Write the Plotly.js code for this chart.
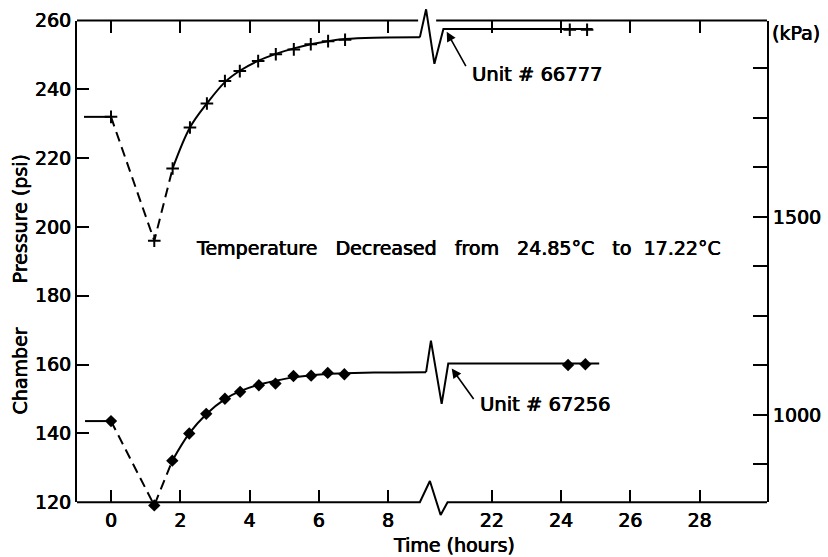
<!DOCTYPE html>
<html>
<head>
<meta charset="utf-8">
<script src="https://cdn.plot.ly/plotly-3.0.1.min.js"></script>
<style>html,body{margin:0;padding:0;background:#fff;}#chart{width:828px;height:557px;}</style>
</head>
<body>
<div id="chart"></div>
<script>
// ---------------- data ----------------
// time axis is broken between ~9 h and ~20 h; 11 hours are cut out
const HOURS_CUT = 11;
const tickHours = [0, 2, 4, 6, 8, 22, 24, 26, 28];
const psiTicks = [120, 140, 160, 180, 200, 220, 240, 260];
const kpaTicks = [875, 1000, 1125, 1250, 1375, 1500, 1625, 1750, 1875];
const kpaLabels = ['', '1000', '', '', '', '1500', '', '', ''];

// Unit #66777 (crosses)
const unitA_T = [0, 1.25, 1.78, 2.28, 2.77, 3.29, 3.72, 4.25, 4.76, 5.28, 5.77, 6.27, 6.76, 24.25, 24.75];
const unitA_P = [232.0, 196.0, 217.0, 228.9, 235.9, 242.4, 245.3, 248.2, 250.2, 251.6, 253.1, 254.0, 254.4, 257.3, 257.3];
// Unit #67256 (diamonds)
const unitB_T = [0, 1.25, 1.77, 2.26, 2.75, 3.29, 3.73, 4.27, 4.75, 5.27, 5.78, 6.26, 6.74, 24.2, 24.7];
const unitB_P = [143.6, 119.1, 132.1, 140.0, 145.7, 150.1, 152.1, 154.0, 154.5, 156.7, 156.8, 157.6, 157.2, 159.9, 160.1];

// hand-drawn smooth fit curves
const fitA_T = [1.78, 2.28, 2.77, 3.29, 3.72, 4.25, 4.76, 5.28, 5.77, 6.27, 6.76, 7.6, 8.92];
const fitA_P = [217.0, 228.9, 235.9, 242.1, 245.4, 248.3, 250.3, 251.9, 253.1, 254.0, 254.6, 255.0, 255.1];
const fitB_T = [1.77, 2.26, 2.75, 3.29, 3.73, 4.27, 4.75, 5.27, 5.78, 6.26, 6.74, 7.6, 9.10];
const fitB_P = [132.1, 140.0, 145.6, 150.0, 152.3, 154.2, 155.3, 156.3, 156.9, 157.3, 157.5, 157.7, 157.8];

// initial steady level before t=0
const leadA_T = [-0.78, 0];
const leadB_T = [-0.75, 0];

// break glyphs (axis units) and the line after the break
const breakA_X = [8.92, 9.10, 9.34, 9.60];
const breakA_P = [255.1, 263.25, 247.4, 257.5];
const endA_T = 24.91;
const breakB_X = [9.10, 9.24, 9.55, 9.74];
const breakB_P = [157.8, 167.0, 148.6, 160.3];
const endB_T = 25.1;
const breakAxis_X = [8.92, 9.21, 9.52, 9.72];
const breakAxis_P = [120, 126.2, 116.3, 120];
const topGap_X = [8.87, 9.39];

// ---------------- helpers ----------------
const tx = t => (t > 12 ? t - HOURS_CUT : t);
const X_RANGE = [-0.982, 18.946];
const Y_RANGE = [120, 260];
const KPA_RANGE = [779.5, 1996.2];
const H = 557, MT = 2, MB = 30;
const plotH = H - MT - MB;
const dTop = 1 - (20.5 - MT) / plotH;
const dBot = (H - MB - 502.3) / plotH;
const psiPerDom = (Y_RANGE[1] - Y_RANGE[0]) / (dTop - dBot);
const Y2_RANGE = [Y_RANGE[0] - dBot * psiPerDom, Y_RANGE[1] + (1 - dTop) * psiPerDom];
const pxToPaperY = px => (H - MB - px) / plotH;

const black = '#000';
const lineStyle = {color: black, width: 2};
const dashStyle = {color: black, width: 2, dash: '10px,6px'};

const traces = [];
// --- everything drawn on the full-height overlay subplot (x2,y2) so marks may leave the frame
function L(x, y, line, shape) {
  traces.push({x: x, y: y, xaxis: 'x2', yaxis: 'y2', mode: 'lines', line: Object.assign({shape: shape || 'linear'}, line), hoverinfo: 'skip'});
}
// frame bottom (with break) and top (with gap)
L([X_RANGE[0]].concat(breakAxis_X, [X_RANGE[1]]), [120].concat(breakAxis_P, [120]), lineStyle);
L([X_RANGE[0], topGap_X[0]], [260, 260], lineStyle);
L([topGap_X[1], X_RANGE[1]], [260, 260], lineStyle);
// unit A
L(leadA_T.map(tx), [unitA_P[0], unitA_P[0]], lineStyle);
L(unitA_T.slice(0, 3).map(tx), unitA_P.slice(0, 3), dashStyle);
L(fitA_T.map(tx), fitA_P, Object.assign({smoothing: 1}, lineStyle), 'spline');
L(breakA_X.concat([tx(endA_T)]), breakA_P.concat([breakA_P[3]]), lineStyle);
// unit B
L(leadB_T.map(tx), [unitB_P[0], unitB_P[0]], lineStyle);
L(unitB_T.slice(0, 3).map(tx), unitB_P.slice(0, 3), dashStyle);
L(fitB_T.map(tx), fitB_P, Object.assign({smoothing: 1}, lineStyle), 'spline');
L(breakB_X.concat([tx(endB_T)]), breakB_P.concat([breakB_P[3]]), lineStyle);

// markers
traces.push({x: unitA_T.map(tx), y: unitA_P, mode: 'markers', xaxis: 'x2', yaxis: 'y2',
  marker: {symbol: 'cross-thin', size: 9, color: black, line: {color: black, width: 2}}, name: 'Unit #66777'});
traces.push({x: unitB_T.map(tx), y: unitB_P, mode: 'markers', xaxis: 'x2', yaxis: 'y2',
  marker: {symbol: 'diamond', size: 9.5, color: black, line: {width: 0}}, name: 'Unit #67256'});
// anchors for the framed axes
traces.push({x: [], y: [], xaxis: 'x', yaxis: 'y', mode: 'markers', hoverinfo: 'skip'});
traces.push({x: [], y: [], xaxis: 'x', yaxis: 'y3', mode: 'markers', hoverinfo: 'skip'});
traces.push({x: [], y: [], xaxis: 'x4', yaxis: 'y', mode: 'markers', hoverinfo: 'skip'});

const font = 'DejaVu Sans, Verdana, sans-serif';
const heavy = '0.45px 0px 0px #000, -0.25px 0px 0px #000';
const F = size => ({family: font, size: size, color: black, shadow: heavy});
const tickCommon = {ticks: 'inside', tickwidth: 2, tickcolor: black, showgrid: false, zeroline: false, tickfont: F(19)};
const nb = s => s.replace(/ /g, '\u00a0');

const layout = {
  width: 828, height: 557,
  margin: {l: 77, r: 61, t: MT, b: MB, pad: 0},
  paper_bgcolor: '#fff', plot_bgcolor: 'rgba(0,0,0,0)',
  showlegend: false,
  font: {family: font, color: black},
  xaxis: Object.assign({}, tickCommon, {domain: [0, 1], range: X_RANGE, tickmode: 'array', tickvals: tickHours.map(tx), ticktext: tickHours.map(String), ticklen: 12, ticklabelstandoff: 5, showline: false, anchor: 'y'}),
  xaxis4: Object.assign({}, tickCommon, {overlaying: 'x', side: 'top', range: X_RANGE, tickmode: 'array', tickvals: tickHours.map(tx), ticklen: 12, showticklabels: false, showline: false, anchor: 'y'}),
  yaxis: Object.assign({}, tickCommon, {domain: [dBot, dTop], range: Y_RANGE, tickmode: 'array', tickvals: psiTicks, ticktext: psiTicks.map(String), ticklen: 12, showline: true, linewidth: 2, linecolor: black, anchor: 'x'}),
  yaxis3: Object.assign({}, tickCommon, {overlaying: 'y', side: 'right', anchor: 'x', range: KPA_RANGE, tickmode: 'array', tickvals: kpaTicks, ticktext: kpaLabels, ticklen: 14, showline: true, linewidth: 2, linecolor: black}),
  xaxis2: {domain: [0, 1], range: X_RANGE, visible: false, anchor: 'y2', fixedrange: true},
  yaxis2: {domain: [0, 1], range: Y2_RANGE, visible: false, anchor: 'x2', fixedrange: true},
  annotations: [
    {xref: 'x', yref: 'y', x: 10.04, y: 193.9, text: nb('Temperature   Decreased   from   24.85°C   to  17.22°C'), showarrow: false, font: F(19), xanchor: 'center', yanchor: 'middle'},
    {xref: 'x', yref: 'y', x: 10.37, y: 244.4, text: nb('Unit # 66777'), showarrow: false, font: F(19.5), xanchor: 'left', yanchor: 'middle'},
    {xref: 'x', yref: 'y', x: 10.61, y: 148.3, text: nb('Unit # 67256'), showarrow: false, font: F(19.5), xanchor: 'left', yanchor: 'middle'},
    {xref: 'x', yref: 'y', x: 9.695, y: 256.75, text: '', showarrow: true, ax: 20, ay: 36, arrowhead: 2, arrowsize: 1.2, arrowwidth: 1.6, arrowcolor: black, standoff: 0},
    {xref: 'x', yref: 'y', x: 9.84, y: 158.9, text: '', showarrow: true, ax: 23, ay: 32, arrowhead: 2, arrowsize: 1.2, arrowwidth: 1.6, arrowcolor: black, standoff: 0},
    {xref: 'x', yref: 'paper', x: 9.92, y: pxToPaperY(545), text: nb('Time (hours)'), showarrow: false, font: F(19), xanchor: 'center', yanchor: 'middle'},
    {xref: 'paper', yref: 'y', x: 1, xshift: 3, y: 256.4, text: '(kPa)', showarrow: false, font: F(19), xanchor: 'left', yanchor: 'middle'},
    {xref: 'paper', yref: 'y', x: -0.0826, y: 158.0, text: 'Chamber', textangle: -90, showarrow: false, font: F(19), xanchor: 'center', yanchor: 'middle'},
    {xref: 'paper', yref: 'y', x: -0.0826, y: 202.2, text: 'Pressure (psi)', textangle: -90, showarrow: false, font: F(19), xanchor: 'center', yanchor: 'middle'}
  ]
};

Plotly.newPlot('chart', traces, layout, {staticPlot: true, displayModeBar: false});
</script>
</body>
</html>
